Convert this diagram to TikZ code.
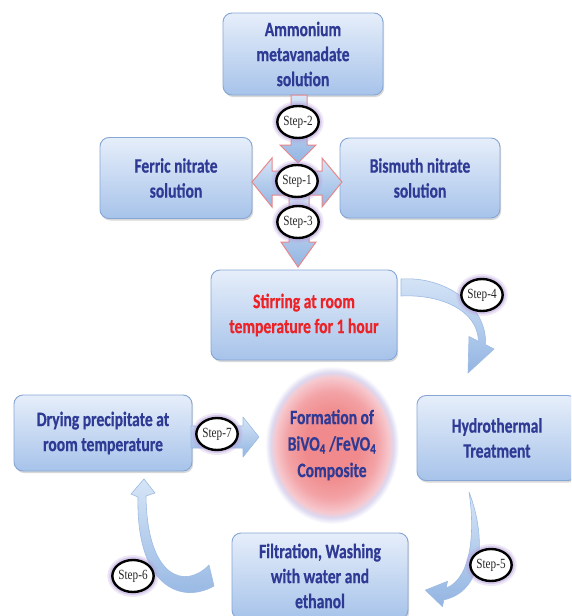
\documentclass[tikz,border=0pt]{standalone}
\usepackage{fontspec}
\setmainfont{Carlito}[FakeStretch=0.76,FakeBold=0.5]
\newfontfamily\stepfont{Liberation Serif}[FakeStretch=0.8]
\usetikzlibrary{shadows,shapes.geometric,calc}
\definecolor{boxtop}{HTML}{E6EEFA}
\definecolor{boxbot}{HTML}{A7C3EA}
\definecolor{boxline}{HTML}{86A6D6}
\definecolor{txtblue}{HTML}{2E3A94}
\definecolor{txtred}{HTML}{EC2227}
\definecolor{arrtop}{HTML}{D6E5F7}
\definecolor{arrbot}{HTML}{93B5E2}
\definecolor{arrline}{HTML}{E8878A}
\definecolor{glowc}{HTML}{B9A3DD}
\definecolor{carrline}{HTML}{9DBBE3}
\definecolor{pkA}{HTML}{F08A8C}
\definecolor{pkB}{HTML}{F3A3A6}
\definecolor{pkC}{HTML}{F6C9CF}
\definecolor{lavA}{HTML}{DCD8F0}
\pgfdeclareradialshading{pinkglow}{\pgfpoint{0bp}{0bp}}{color(0bp)=(pkA); color(10bp)=(pkA); color(17bp)=(pkB); color(21.5bp)=(pkC); color(23bp)=(lavA); color(25bp)=(white); color(50bp)=(white)}
\begin{document}
\begin{tikzpicture}[x=1pt,y=-1pt,
  procbox/.style={draw=boxline, line width=0.9pt, rounded corners=9pt,
    top color=boxtop, bottom color=boxbot, align=center, text=txtblue,
    font=\fontsize{20.5}{25}\selectfont\bfseries, inner sep=2pt,
    drop shadow={shadow xshift=1.2pt, shadow yshift=-2pt, opacity=0.25, fill=black!60}},
  stepc/.style={ellipse, draw=black, line width=2.4pt, fill=white,
    minimum width=39pt, minimum height=32pt, inner sep=0pt,
    font=\stepfont\fontsize{14}{14}\selectfont, text=black!85,
    preaction={draw=glowc, line width=10pt, draw opacity=0.25},
    preaction={draw=glowc, line width=6pt, draw opacity=0.45}},
  blockarr/.style={draw=arrline, line width=1pt, top color=arrtop,
    bottom color=arrbot, line join=miter},
  curvarr/.style={draw=carrline, line width=0.6pt, top color=arrtop,
    bottom color=arrbot, line join=round}
]
\useasboundingbox (0,0) rectangle (571,616);
\clip (0,0) rectangle (571,616);
\fill[white] (0,0) rectangle (571,616);

% process boxes
\node[procbox, minimum width=160pt, minimum height=82pt] (amm) at (303,54)
  {Ammonium\\metavanadate\\solution};
\node[procbox, minimum width=152pt, minimum height=81pt] (fer) at (176,178)
  {Ferric nitrate\\solution};
\node[procbox, minimum width=160pt, minimum height=80pt] (bis) at (420,178)
  {Bismuth nitrate\\solution};
\node[procbox, minimum width=186pt, minimum height=90pt, text=txtred] (stir) at (304,315)
  {Stirring at room\\temperature for 1 hour};
\node[procbox, minimum width=178pt, minimum height=76pt] (dry) at (103,433)
  {Drying precipitate at\\room temperature};
\node[procbox, minimum width=160pt, minimum height=85pt] (hyd) at (497,438)
  {Hydrothermal\\Treatment};
\node[procbox, minimum width=176pt, minimum height=86pt] (fil) at (320,576)
  {Filtration, Washing\\with water and\\ethanol};

% central product
\node[ellipse, minimum width=134pt, minimum height=158pt, inner sep=0pt,
  shading=pinkglow, align=center, text=txtblue,
  font=\fontsize{20.5}{26.5}\selectfont\bfseries] (form) at (332,445)
  {Formation of\\BiVO\textsubscript{4} /FeVO\textsubscript{4}\\Composite};

% cross of block arrows
\draw[blockarr] (291,95) -- (307,95) -- (307,145) -- (316,145) -- (298,163)
  -- (280,145) -- (291,145) -- cycle;
\draw[blockarr] (252,182) -- (272,158) -- (272,171) -- (322,171) -- (322,158)
  -- (342,182) -- (322,207) -- (322,195) -- (272,195) -- (272,207) -- cycle;
\draw[blockarr] (289,195) -- (309,195) -- (309,242) -- (316,242) -- (298,267)
  -- (281,242) -- (289,242) -- cycle;

% step-7 block arrow
\draw[curvarr] (191,426) -- (243,426) -- (243,417) -- (259,437) -- (243,457)
  -- (243,448) -- (191,448) -- cycle;

% step-4 curved arrow
\draw[curvarr] (401,279) .. controls (445,276) and (487,305) .. (485.6,344.7)
  -- (494,349) -- (468,373) -- (469,336.5) -- (478.4,341.3)
  .. controls (478,310) and (440,294) .. (401,296) -- cycle;

% step-5 curved arrow
\draw[curvarr] (469,492) .. controls (484,530) and (488,590) .. (443.8,599.9)
  -- (442.5,606.7) -- (425.4,590.1) -- (447.5,581.3) -- (446.2,588.1)
  .. controls (472,578) and (475,530) .. (469,492) -- cycle;

% step-6 curved arrow
\draw[curvarr] (214,586) .. controls (180,605) and (136,585) .. (138,497)
  -- (131,494) -- (144,479) -- (155,493) -- (146,496)
  .. controls (147,578) and (185,590) .. (209,565) -- cycle;

% step markers
\node[stepc] (s2) at (298,122) {Step-2};
\node[stepc] (s1) at (297,181) {Step-1};
\node[stepc] (s3) at (298,222) {Step-3};
\node[stepc] (s4) at (482,295) {Step-4};
\node[stepc] (s5) at (491,565) {Step-5};
\node[stepc] (s6) at (133,576) {Step-6};
\node[stepc] (s7) at (217,434) {Step-7};
\end{tikzpicture}
\end{document}
